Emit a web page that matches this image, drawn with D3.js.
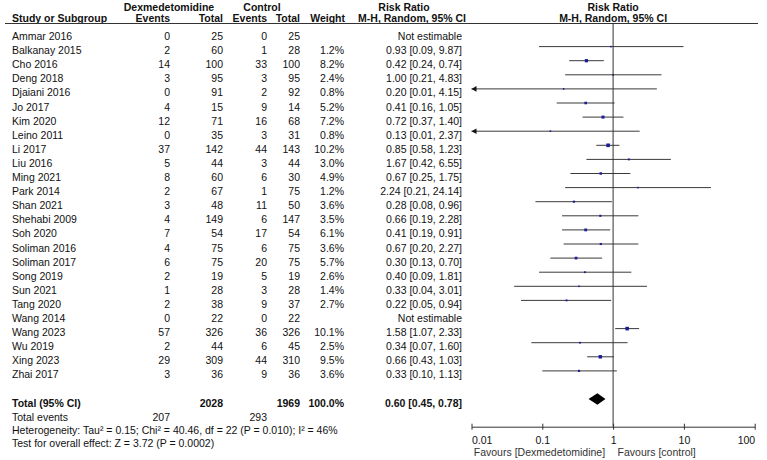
<!DOCTYPE html>
<html>
<head>
<meta charset="utf-8">
<script src="https://cdn.jsdelivr.net/npm/d3@7"></script>
<style>
    body { margin: 0; background: #fff; }
    svg { display: block; font-family: "Liberation Sans", Arial, sans-serif; font-size: 10.5px; fill: #111; }
</style>
</head>
<body>
<div id="forest"></div>
<script>
// study rows
const studies = ["Ammar 2016", "Balkanay 2015", "Cho 2016", "Deng 2018", "Djaiani 2016", "Jo 2017",
    "Kim 2020", "Leino 2011", "Li 2017", "Liu 2016", "Ming 2021", "Park 2014", "Shan 2021",
    "Shehabi 2009", "Soh 2020", "Soliman 2016", "Soliman 2017", "Song 2019", "Sun 2021",
    "Tang 2020", "Wang 2014", "Wang 2023", "Wu 2019", "Xing 2023", "Zhai 2017"];
const dexEvents = [0, 2, 14, 3, 0, 4, 12, 0, 37, 5, 8, 2, 3, 4, 7, 4, 6, 2, 1, 2, 0, 57, 2, 29, 3];
const dexTotal = [25, 60, 100, 95, 91, 15, 71, 35, 142, 44, 60, 67, 48, 149, 54, 75, 75, 19, 28, 38, 22, 326, 44, 309, 36];
const ctlEvents = [0, 1, 33, 3, 2, 9, 16, 3, 44, 3, 6, 1, 11, 6, 17, 6, 20, 5, 3, 9, 0, 36, 6, 44, 9];
const ctlTotal = [25, 28, 100, 95, 92, 14, 68, 31, 143, 44, 30, 75, 50, 147, 54, 75, 75, 19, 28, 37, 22, 326, 45, 310, 36];
const weights = [null, 1.2, 8.2, 2.4, 0.8, 5.2, 7.2, 0.8, 10.2, 3.0, 4.9, 1.2, 3.6, 3.5, 6.1, 3.6, 5.7, 2.6, 1.4, 2.7, null, 10.1, 2.5, 9.5, 3.6];
const ratios = [null, 0.93, 0.42, 1.00, 0.20, 0.41, 0.72, 0.13, 0.85, 1.67, 0.67, 2.24, 0.28, 0.66, 0.41, 0.67, 0.30, 0.40, 0.33, 0.22, null, 1.58, 0.34, 0.66, 0.33];
const lowers = [null, 0.09, 0.24, 0.21, 0.01, 0.16, 0.37, 0.01, 0.58, 0.42, 0.25, 0.21, 0.08, 0.19, 0.19, 0.20, 0.13, 0.09, 0.04, 0.05, null, 1.07, 0.07, 0.43, 0.10];
const uppers = [null, 9.87, 0.74, 4.83, 4.15, 1.05, 1.40, 2.37, 1.23, 6.55, 1.75, 24.14, 0.96, 2.28, 0.91, 2.27, 0.70, 1.81, 3.01, 0.94, null, 2.33, 1.60, 1.03, 1.13];

// pooled
const totalDex = 2028, totalCtl = 1969;
const totalEventsDex = 207, totalEventsCtl = 293;
const pooled = { rr: 0.60, lo: 0.45, hi: 0.78 };
const tickValues = [0.01, 0.1, 1, 10, 100];
const heterogeneity = "Heterogeneity: Tau² = 0.15; Chi² = 40.46, df = 22 (P = 0.010); I² = 46%";
const overallTest = "Test for overall effect: Z = 3.72 (P = 0.0002)";

const W = 767, H = 460;
const svg = d3.select("#forest").append("svg")
    .attr("width", W).attr("height", H)
    .attr("viewBox", `0 0 ${W} ${H}`);

const x = d3.scaleLog().domain([0.01, 100]).range([471.5, 754.7]);
const y = d3.scalePoint().domain(studies).range([32.5, 370.9]);
const side = d3.scaleSqrt().domain([0, 10.2]).range([0, 3.6]);

const col = { name: 12, dexEv: 170, dexTot: 223, ctlEv: 267, ctlTot: 300, weight: 344, rr: 462 };
const textOff = 7.5;
const totalY = 399;
const axisY = 426.7;
const fmt = d3.format(".2f");

// headers
const head = svg.append("g").attr("font-weight", "bold");
head.append("text").attr("x", 169).attr("y", 10.5).attr("text-anchor", "middle").text("Dexmedetomidine");
head.append("text").attr("x", 262).attr("y", 10.5).attr("text-anchor", "middle").text("Control");
head.append("text").attr("x", 404).attr("y", 10.5).attr("text-anchor", "middle").text("Risk Ratio");
head.append("text").attr("x", x(1)).attr("y", 10.5).attr("text-anchor", "middle").text("Risk Ratio");
head.append("text").attr("x", col.name).attr("y", 22).text("Study or Subgroup");
[["Events", col.dexEv], ["Total", col.dexTot], ["Events", col.ctlEv], ["Total", col.ctlTot],
 ["Weight", col.weight + 1], ["M-H, Random, 95% CI", 466]].forEach(([t, cx]) => {
    head.append("text").attr("x", cx).attr("y", 22).attr("text-anchor", "end").text(t);
});
head.append("text").attr("x", x(1)).attr("y", 22).attr("text-anchor", "middle").text("M-H, Random, 95% CI");

svg.append("line")
    .attr("x1", 5).attr("x2", 758).attr("y1", 23.5).attr("y2", 23.5)
    .attr("stroke", "#333").attr("stroke-width", 1);

// table rows
const rows = svg.append("g").selectAll("g")
    .data(studies)
    .join("g")
    .attr("transform", d => `translate(0, ${y(d) + textOff})`);

rows.append("text").attr("x", col.name).text(d => d);
rows.append("text").attr("x", col.dexEv).attr("text-anchor", "end").text((d, i) => dexEvents[i]);
rows.append("text").attr("x", col.dexTot).attr("text-anchor", "end").text((d, i) => dexTotal[i]);
rows.append("text").attr("x", col.ctlEv).attr("text-anchor", "end").text((d, i) => ctlEvents[i]);
rows.append("text").attr("x", col.ctlTot).attr("text-anchor", "end").text((d, i) => ctlTotal[i]);
rows.append("text").attr("x", col.weight).attr("text-anchor", "end")
    .text((d, i) => weights[i] == null ? "" : weights[i].toFixed(1) + "%");
rows.append("text").attr("x", col.rr).attr("text-anchor", "end")
    .text((d, i) => ratios[i] == null ? "Not estimable"
        : `${fmt(ratios[i])} [${fmt(lowers[i])}, ${fmt(uppers[i])}]`);

// forest marks
const plot = svg.append("g");
const est = studies.map((s, i) => ({ s, i })).filter(d => ratios[d.i] != null);

plot.selectAll("line.ci")
    .data(est)
    .join("line")
    .attr("class", "ci")
    .attr("x1", d => x(Math.max(lowers[d.i], 0.01)))
    .attr("x2", d => x(Math.min(uppers[d.i], 100)))
    .attr("y1", d => y(d.s)).attr("y2", d => y(d.s))
    .attr("stroke", "#3a3a3a").attr("stroke-width", 1);

// arrowheads where CI runs off the left
plot.selectAll("path.arrow")
    .data(est.filter(d => lowers[d.i] <= 0.01))
    .join("path")
    .attr("class", "arrow")
    .attr("d", d => {
        const x0 = x(0.01), y0 = y(d.s);
        return `M${x0},${y0}L${x0 + 5},${y0 - 2.8}L${x0 + 5},${y0 + 2.8}Z`;
    })
    .attr("fill", "#111");

plot.selectAll("rect.sq")
    .data(est)
    .join("rect")
    .attr("class", "sq")
    .attr("x", d => x(ratios[d.i]) - Math.max(1.6, side(weights[d.i])) / 2)
    .attr("y", d => y(d.s) - Math.max(1.6, side(weights[d.i])) / 2)
    .attr("width", d => Math.max(1.6, side(weights[d.i])))
    .attr("height", d => Math.max(1.6, side(weights[d.i])))
    .attr("fill", "#1c1c96");

// line of no effect
plot.append("line")
    .attr("x1", x(1)).attr("x2", x(1))
    .attr("y1", 23.5).attr("y2", axisY)
    .attr("stroke", "#333").attr("stroke-width", 1);

// total row
const tot = svg.append("g").attr("transform", `translate(0, ${totalY + textOff})`);
tot.append("text").attr("x", col.name).attr("font-weight", "bold").text("Total (95% CI)");
tot.append("text").attr("x", col.dexTot).attr("text-anchor", "end").attr("font-weight", "bold").text(totalDex);
tot.append("text").attr("x", col.ctlTot).attr("text-anchor", "end").attr("font-weight", "bold").text(totalCtl);
tot.append("text").attr("x", col.weight).attr("text-anchor", "end").attr("font-weight", "bold").text("100.0%");
tot.append("text").attr("x", col.rr).attr("text-anchor", "end").attr("font-weight", "bold")
    .text(`${fmt(pooled.rr)} [${fmt(pooled.lo)}, ${fmt(pooled.hi)}]`);

plot.append("path")
    .datum(pooled)
    .attr("d", d => `M${x(d.lo)},${totalY}L${x(d.rr)},${totalY - 5.8}L${x(d.hi)},${totalY}L${x(d.rr)},${totalY + 5.8}Z`)
    .attr("fill", "#000");

const ev = svg.append("g").attr("transform", "translate(0, 421)");
ev.append("text").attr("x", col.name).text("Total events");
ev.append("text").attr("x", col.dexEv).attr("text-anchor", "end").text(totalEventsDex);
ev.append("text").attr("x", col.ctlEv).attr("text-anchor", "end").text(totalEventsCtl);

svg.append("text").attr("x", col.name).attr("y", 434).text(heterogeneity);
svg.append("text").attr("x", col.name).attr("y", 447).text(overallTest);

// axis
const axis = svg.append("g")
    .attr("transform", `translate(0, ${axisY})`)
    .call(d3.axisBottom(x).tickValues(tickValues).tickSizeOuter(0).tickSizeInner(3)
        .tickFormat(d => d3.format("~g")(d)));

axis.select(".domain").attr("stroke", "#333");
axis.selectAll(".tick line").attr("y1", -3).attr("y2", 3).attr("stroke", "#333");
axis.selectAll(".tick text")
    .attr("y", 17.3).attr("dy", null)
    .attr("fill", "#111")
    .style("font-family", "\"Liberation Sans\", Arial, sans-serif")
    .style("font-size", "10.5px")
    .attr("text-anchor", (d, i) => i === 0 ? "start" : i === tickValues.length - 1 ? "end" : "middle");

svg.append("text").attr("x", x(1) - 8).attr("y", 455.5).attr("text-anchor", "end").attr("fill", "#333")
    .text("Favours [Dexmedetomidine]");
svg.append("text").attr("x", x(1) + 4.5).attr("y", 455.5).attr("fill", "#333")
    .text("Favours [control]");
</script>
</body>
</html>
